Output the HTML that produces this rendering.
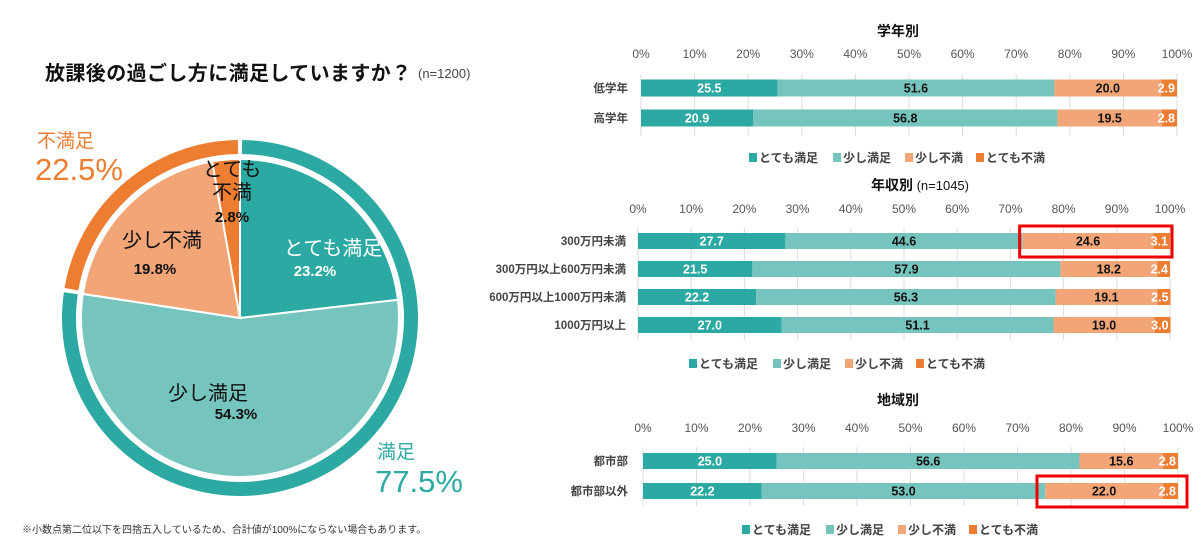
<!DOCTYPE html>
<html><head><meta charset="utf-8">
<style>
html,body{margin:0;padding:0;background:#fff;}
svg{display:block;font-family:"Liberation Sans","Noto Sans CJK JP",sans-serif;}
</style></head>
<body>
<svg id="c" width="1200" height="545" viewBox="0 0 1200 545"></svg>
<script>
const pieCategories = ['とても満足','少し満足','少し不満','とても不満'];
const pieValues = [23.2, 54.3, 19.8, 2.8];
const ringLabels = ['満足','不満足'];
const ringValues = [77.5, 22.5];
const seriesNames = ['とても満足','少し満足','少し不満','とても不満'];
const tickLabels = ['0%','10%','20%','30%','40%','50%','60%','70%','80%','90%','100%'];
const gradeCats = ['低学年','高学年'];
const gradeVery = [25.5, 20.9];
const gradeSome = [51.6, 56.8];
const gradeLess = [20.0, 19.5];
const gradeNot = [2.9, 2.8];
const incomeCats = ['300万円未満','300万円以上600万円未満','600万円以上1000万円未満','1000万円以上'];
const incomeVery = [27.7, 21.5, 22.2, 27.0];
const incomeSome = [44.6, 57.9, 56.3, 51.1];
const incomeLess = [24.6, 18.2, 19.1, 19.0];
const incomeNot = [3.1, 2.4, 2.5, 3.0];
const regionCats = ['都市部','都市部以外'];
const regionVery = [25.0, 22.2];
const regionSome = [56.6, 53.0];
const regionLess = [15.6, 22.0];
const regionNot = [2.8, 2.8];

const NS='http://www.w3.org/2000/svg';
const svg=document.getElementById('c');
const colors=['#2BA9A2','#76C4BE','#F2A576','#ED7D31'];
function mk(tag,attrs,parent,text){const e=document.createElementNS(NS,tag);for(const k in attrs)e.setAttribute(k,attrs[k]);if(text!==undefined)e.textContent=text;(parent||svg).appendChild(e);return e;}

let t=mk('text',{x:45,y:80,'font-size':20,'font-weight':'bold',fill:'#111','letter-spacing':0.4},svg,'放課後の過ごし方に満足していますか？');


t=mk('text',{x:418,y:78,'font-size':13,fill:'#444'},svg,'(n=1200)');



const cx=240, cy=318, rOut=178, rIn=164, rPie=159;
function pt(r,a){return [cx+r*Math.sin(a), cy-r*Math.cos(a)];}
function sector(r0,r1,a0,a1){
  const large=(a1-a0)>Math.PI?1:0;
  const p1=pt(r1,a0),p2=pt(r1,a1);
  if(r0===0) return `M${cx},${cy}L${p1[0]},${p1[1]}A${r1},${r1} 0 ${large} 1 ${p2[0]},${p2[1]}Z`;
  const p3=pt(r0,a1),p4=pt(r0,a0);
  return `M${p1[0]},${p1[1]}A${r1},${r1} 0 ${large} 1 ${p2[0]},${p2[1]}L${p3[0]},${p3[1]}A${r0},${r0} 0 ${large} 0 ${p4[0]},${p4[1]}Z`;
}
const pieTot=pieValues.reduce((a,b)=>a+b,0);
let acc=0;
pieValues.forEach((v,i)=>{
  const a0=acc/pieTot*2*Math.PI; acc+=v; const a1=acc/pieTot*2*Math.PI;
  const p=mk('path',{d:sector(0,rPie,a0,a1),fill:colors[i],stroke:'#fff','stroke-width':2});
  
  
});
const ringTot=ringValues.reduce((a,b)=>a+b,0);
acc=0;
const ringColors=['#2BA9A2','#ED7D31'];
ringValues.forEach((v,i)=>{
  const a0=acc/ringTot*2*Math.PI+0.012; acc+=v; const a1=acc/ringTot*2*Math.PI-0.012;
  const p=mk('path',{d:sector(rIn,rOut,a0,a1),fill:ringColors[i]});
  
  
});
function lbl(x,y,s,txt,fill,bold,name,anchor){const e=mk('text',{x:x,y:y,'font-size':s,fill:fill,'font-weight':bold?'bold':'normal','text-anchor':anchor||'start'},svg,txt);return e;}
lbl(333,255,20,pieCategories[0],'#fff',false,'label-very-satisfied','middle');
lbl(315,276,15,pieValues[0].toFixed(1)+'%','#fff',true,'value-very-satisfied','middle');
lbl(208,400,20,pieCategories[1],'#111',false,'label-somewhat-satisfied','middle');
lbl(236,419,15,pieValues[1].toFixed(1)+'%','#111',true,'value-somewhat-satisfied','middle');
lbl(162,247,20,pieCategories[2],'#111',false,'label-somewhat-dissatisfied','middle');
lbl(155,274,15,pieValues[2].toFixed(1)+'%','#111',true,'value-somewhat-dissatisfied','middle');
lbl(232,176,20,'とても','#111',false,'label-very-dissatisfied-1','middle');
lbl(232,199,20,'不満','#111',false,'label-very-dissatisfied-2','middle');
lbl(232,222,15,pieValues[3].toFixed(1)+'%','#111',true,'value-very-dissatisfied','middle');
lbl(37,147,19,ringLabels[1],'#ED7D31',false,'ring-label-dissatisfied');
lbl(35,180,31,ringValues[1].toFixed(1)+'%','#ED7D31',false,'ring-value-dissatisfied');
lbl(377,458,19,ringLabels[0],'#2BA9A2',false,'ring-label-satisfied');
lbl(375,492,31,ringValues[0].toFixed(1)+'%','#2BA9A2',false,'ring-value-satisfied');
lbl(22,533,10,'※小数点第二位以下を四捨五入しているため、合計値が100%にならない場合もあります。','#333',false,'footnote');

function barChart(o){
  const g=mk('g',{});
  
  
  const xs=v=>o.x0+(o.x1-o.x0)*v/100;
  const tt=mk('text',{x:o.titleX,y:o.titleY,'font-size':14,'font-weight':'bold',fill:'#111','text-anchor':'middle'},g,o.title);
  
  
  if(o.sub){mk('tspan',{'font-weight':'normal','font-size':13},tt,' '+o.sub);}
  tickLabels.forEach((lab,i)=>{
    const v=i*10;
    const gl=mk('line',{x1:xs(v),x2:xs(v),y1:o.gridTop,y2:o.gridBot,stroke:'#ddd','stroke-width':1},g);
    
    
    const tl=mk('text',{x:xs(v),y:o.tickY,'font-size':12,fill:'#555','text-anchor':'middle'},g,lab);
    
    
  });
  o.cats.forEach((c,r)=>{
    const yc=o.rowY[r];
    const cl=mk('text',{x:o.catX,y:yc+4,'font-size':11.5,'font-weight':'bold',fill:'#444','text-anchor':'end'},g,c);
    
    
    let a=0;
    o.series.forEach((arr,k)=>{
      const v=arr[r];
      const rc=mk('rect',{x:xs(a),y:yc-o.bh/2,width:xs(a+v)-xs(a),height:o.bh,fill:colors[k]},g);
      
      
      const mid=k===3?xs(a+v)-2:(xs(a)+xs(a+v))/2;
      const vl=mk('text',{x:mid,y:yc+4.5,'font-size':12.5,'font-weight':'bold',fill:(k===0||k===3)?'#fff':'#111','text-anchor':k===3?'end':'middle'},g,v.toFixed(1));
      
      
      a+=v;
    });
  });
  let lx=o.legX;
  seriesNames.forEach((n,k)=>{
    const sq=mk('rect',{x:lx,y:o.legY-5,width:8,height:9,fill:colors[k]},g);
    
    
    const lt=mk('text',{x:lx+10,y:o.legY+4,'font-size':12,'font-weight':'bold',fill:'#444'},g,n);
    
    
    lx+=(k===0?84:k===1?72:71);
  });
  (o.boxes||[]).forEach(b=>{
    const r=mk('rect',{x:xs(b.from)-3,y:o.rowY[b.row]-15,width:xs(100)-xs(b.from)+5+(b.extra||0),height:31,fill:'none',stroke:'#e00','stroke-width':3},g);
    
    
  });
}
barChart({name:'grade-chart',title:'学年別',titleX:898,titleY:36,x0:641,x1:1177,tickY:58,gridTop:74,gridBot:136,
  cats:gradeCats,series:[gradeVery,gradeSome,gradeLess,gradeNot],rowY:[88,118],bh:17,catX:628,legX:749,legY:158});
barChart({name:'income-chart',title:'年収別',sub:'(n=1045)',titleX:920,titleY:190,x0:638,x1:1170,tickY:213,gridTop:227,gridBot:340,
  cats:incomeCats,series:[incomeVery,incomeSome,incomeLess,incomeNot],rowY:[241,269,297,325],bh:16,catX:626,legX:689,legY:364,
  boxes:[{row:0,from:incomeVery[0]+incomeSome[0]}]});
barChart({name:'region-chart',title:'地域別',titleX:898,titleY:405,x0:643,x1:1178,tickY:432,gridTop:447,gridBot:506,
  cats:regionCats,series:[regionVery,regionSome,regionLess,regionNot],rowY:[461,491],bh:16,catX:628,legX:742,legY:530,
  boxes:[{row:1,from:regionVery[1]+regionSome[1]-1,extra:7}]});
</script>
</body></html>
